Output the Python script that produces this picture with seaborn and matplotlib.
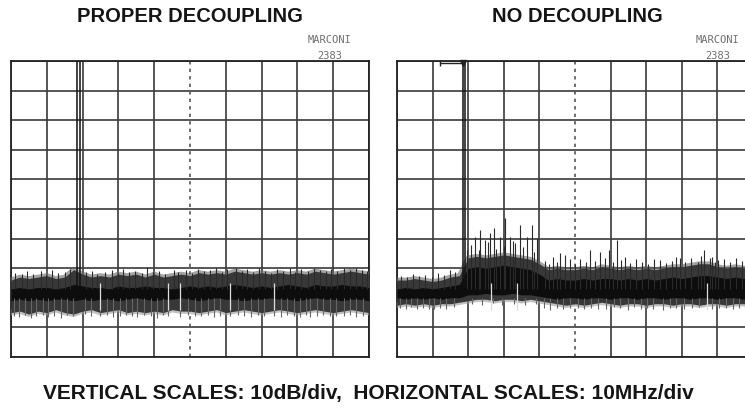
import numpy as np
import pandas as pd
import matplotlib
matplotlib.use("Agg")
import matplotlib.pyplot as plt
import seaborn as sns

sample_mhz = [0, 2.5, 5, 7.5, 10, 12.5, 15, 17.5, 20, 22.5,
              25, 27.5, 30, 32.5, 35, 37.5, 40, 42.5, 45, 47.5,
              50, 52.5, 55, 57.5, 60, 62.5, 65, 67.5, 70, 72.5,
              75, 77.5, 80, 82.5, 85, 87.5, 90, 92.5, 95, 97.5, 100]

# --- PROPER DECOUPLING (dB) ---
left_top = [-74.0, -73.0, -73.5, -73.0, -72.5, -73.5, -73.0, -70.5, -72.0, -73.0,
            -72.5, -73.0, -72.0, -72.5, -72.0, -73.0, -72.0, -73.0, -72.5, -72.0,
            -72.5, -71.5, -72.0, -71.5, -72.0, -71.0, -71.5, -72.0, -71.5, -72.0,
            -71.5, -72.0, -71.5, -72.0, -71.0, -71.5, -72.0, -71.5, -71.0, -71.5, -72.0]
left_core_top = [-77.0, -76.5, -77.0, -76.5, -76.5, -77.0, -76.5, -75.5, -76.0, -76.5,
                 -76.5, -77.0, -76.0, -76.5, -76.5, -76.0, -76.5, -76.5, -77.0, -76.5,
                 -76.0, -76.5, -76.0, -76.5, -76.0, -75.5, -76.0, -76.5, -76.0, -76.5,
                 -76.0, -75.5, -76.0, -76.5, -75.5, -76.0, -76.0, -75.5, -76.0, -76.0, -76.5]
left_core_bottom = [-81.0, -80.5, -81.0, -80.5, -81.0, -80.5, -80.5, -81.0, -80.5, -81.0,
                    -80.5, -80.5, -81.0, -80.5, -80.0, -80.5, -81.0, -80.5, -80.5, -80.0,
                    -80.5, -81.0, -80.5, -80.0, -80.5, -80.5, -81.0, -80.5, -80.5, -80.0,
                    -80.5, -80.5, -81.0, -80.5, -80.0, -80.5, -80.5, -81.0, -80.5, -80.5, -81.0]
left_bottom = [-85.0, -84.5, -85.5, -84.5, -85.0, -84.0, -85.0, -85.5, -84.5, -84.0,
               -85.0, -84.5, -84.0, -85.0, -84.5, -85.0, -84.5, -85.0, -84.0, -84.5,
               -84.5, -85.0, -84.5, -84.0, -85.0, -84.5, -84.0, -84.5, -85.0, -84.5,
               -84.0, -84.5, -85.0, -84.5, -84.0, -84.5, -85.0, -84.5, -84.0, -84.5, -85.0]
left_peak_mhz = [18.5, 19.3]
left_spike_mhz = [1.2, 3.0, 4.6, 6.1, 8.3, 9.7, 11.4, 13.2, 15.0, 16.5,
                  21.0, 22.6, 24.0, 26.3, 28.1, 29.8, 31.4, 33.0, 34.7, 36.5,
                  38.0, 39.6, 41.3, 43.0, 45.4, 46.6, 48.8, 50.5, 52.1, 53.9,
                  55.6, 57.3, 59.0, 60.4, 62.8, 64.4, 66.0, 67.7, 69.3, 71.0,
                  72.6, 74.4, 76.0, 77.8, 79.4, 81.1, 82.9, 84.5, 86.2, 87.9,
                  89.5, 91.2, 92.9, 94.6, 96.3, 98.0, 99.4]
left_spike_db = [-71.5, -72.0, -70.8, -71.8, -71.0, -72.2, -70.5, -71.6, -71.2, -70.4,
                 -71.4, -70.9, -72.0, -71.2, -70.6, -71.5, -70.2, -71.3, -70.8, -71.6,
                 -69.6, -71.2, -70.9, -71.8, -70.5, -71.4, -70.7, -71.5, -70.3, -71.0,
                 -70.6, -70.0, -71.2, -70.4, -69.8, -70.9, -70.2, -71.3, -70.0, -70.8,
                 -71.5, -70.3, -70.9, -70.1, -71.2, -70.4, -70.9, -69.9, -70.7, -71.1,
                 -70.2, -70.8, -70.0, -70.6, -69.8, -70.7, -71.0]
left_dip_mhz = [0.8, 2.2, 3.9, 5.5, 7.0, 8.8, 10.4, 12.0, 14.1, 15.7,
                17.2, 20.6, 22.4, 24.9, 26.8, 28.6, 30.5, 32.2, 33.9, 35.2,
                37.1, 39.0, 40.8, 42.4, 43.9, 47.2, 49.5, 51.3, 53.0, 55.0,
                56.8, 58.5, 61.2, 63.4, 65.2, 67.0, 68.9, 70.6, 73.4, 75.3,
                77.1, 79.0, 80.7, 82.3, 83.6, 85.4, 87.2, 89.0, 90.8, 93.0,
                94.8, 96.5, 98.3]
left_dip_db = [-86.0, -86.5, -85.8, -86.9, -86.0, -85.7, -86.4, -86.1, -86.8, -85.9,
               -86.3, -85.6, -86.2, -86.2, -85.8, -86.6, -86.0, -85.7, -86.3, -86.5,
               -85.9, -86.1, -86.7, -85.8, -86.0, -86.6, -85.9, -86.3, -86.0, -85.8,
               -86.4, -86.1, -86.3, -85.7, -86.2, -86.5, -85.9, -86.1, -86.0, -86.4,
               -85.8, -86.2, -86.6, -85.9, -86.4, -86.0, -85.7, -86.3, -86.1, -86.2,
               -85.8, -86.5, -86.0]
left_gap_mhz = [24.9, 43.9, 47.2, 61.2, 73.4]

# --- NO DECOUPLING (dB) ---
right_top = [-74.0, -74.0, -73.5, -74.0, -74.5, -74.0, -73.0, -72.5, -66.5, -66.0,
             -66.5, -66.0, -65.5, -66.0, -66.5, -67.0, -68.5, -70.5, -70.0, -70.5,
             -70.5, -70.0, -70.5, -69.5, -70.0, -70.5, -70.0, -70.5, -70.0, -70.5,
             -70.0, -69.5, -69.5, -69.0, -68.5, -68.5, -69.5, -70.0, -69.5, -70.0, -70.0]
right_core_top = [-77.0, -76.5, -77.0, -76.5, -77.0, -76.5, -76.0, -75.5, -70.0, -69.5,
                  -70.0, -69.5, -69.0, -69.5, -70.0, -70.5, -72.0, -74.0, -73.5, -74.0,
                  -74.0, -73.5, -74.0, -73.5, -73.5, -74.0, -73.5, -74.0, -73.5, -74.0,
                  -73.5, -73.0, -73.5, -73.0, -72.5, -72.5, -73.0, -73.5, -73.0, -73.5, -73.5]
right_core_bottom = [-80.0, -80.5, -80.0, -80.5, -80.0, -80.5, -80.0, -80.0, -79.0, -79.0,
                     -78.5, -79.0, -79.0, -78.5, -79.0, -79.0, -79.5, -80.0, -80.5, -80.0,
                     -80.0, -80.5, -80.0, -80.0, -80.5, -80.0, -80.0, -80.5, -80.0, -80.0,
                     -80.5, -80.0, -80.0, -80.5, -80.0, -80.0, -80.5, -80.0, -80.0, -80.5, -80.0]
right_bottom = [-82.5, -82.0, -82.5, -82.0, -82.5, -82.0, -82.0, -81.5, -81.0, -80.5,
                -80.5, -81.0, -80.5, -80.5, -81.0, -80.5, -81.0, -81.5, -82.0, -82.5,
                -82.0, -82.5, -82.0, -81.5, -82.0, -82.5, -82.0, -82.0, -82.5, -82.0,
                -82.0, -82.5, -82.0, -82.0, -82.5, -82.0, -82.0, -82.5, -82.0, -82.0, -82.5]
right_peak_mhz = [18.45, 19.2]
right_spike_mhz = [19.8, 21.9, 23.3, 24.7, 26.1, 27.2, 28.9, 30.3, 31.7, 33.1,
                   34.6, 36.5, 37.9, 39.3, 43.9, 45.8, 47.2, 54.2, 57.0, 59.6,
                   61.8, 64.0, 73.9, 79.5, 86.3, 88.5, 90.2]
right_spike_db = [-63.9, -59.5, -57.1, -60.5, -58.1, -56.4, -59.5, -53.0, -59.5, -61.5,
                  -55.4, -59.5, -55.4, -59.8, -66.2, -64.9, -65.5, -63.9, -64.5, -63.9,
                  -60.5, -66.2, -67.2, -66.6, -63.9, -66.2, -67.2]
right_fuzz_mhz = [1.0, 2.8, 4.5, 6.3, 8.0, 9.8, 11.5, 13.2, 15.0, 16.4,
                  20.8, 23.0, 25.5, 27.9, 30.0, 32.5, 35.5, 38.5, 41.5, 42.8,
                  45.0, 48.5, 50.0, 51.5, 53.0, 55.6, 58.3, 60.6, 63.0, 65.5,
                  67.0, 68.8, 70.5, 72.2, 75.5, 77.2, 78.5, 81.0, 82.7, 84.5,
                  85.5, 87.8, 89.2, 91.8, 93.5, 95.2, 97.0, 98.6]
right_fuzz_db = [-72.5, -73.0, -71.8, -72.8, -72.2, -73.1, -71.5, -72.4, -70.5, -71.2,
                 -62.0, -64.0, -61.0, -63.5, -62.5, -60.8, -63.0, -64.5, -67.5, -68.5,
                 -68.0, -67.0, -68.5, -66.8, -68.0, -67.5, -66.5, -68.0, -67.3, -68.4,
                 -66.9, -67.8, -68.5, -67.0, -68.2, -67.5, -66.2, -67.8, -66.5, -67.9,
                 -65.8, -66.5, -68.0, -66.9, -67.8, -66.4, -67.5, -66.8]
right_dip_mhz = [0.9, 2.4, 3.9, 5.6, 7.2, 8.9, 10.5, 12.1, 13.8, 16.0,
                 21.2, 24.0, 27.0, 29.6, 32.9, 36.0, 39.0, 41.2, 43.0, 44.9,
                 46.6, 48.7, 50.8, 52.5, 54.6, 56.5, 58.8, 60.9, 62.7, 64.8,
                 66.5, 68.4, 70.2, 72.0, 74.8, 76.6, 78.4, 80.5, 83.0, 84.9,
                 88.6, 90.4, 92.5, 94.4, 96.1, 97.8, 99.0]
right_dip_db = [-83.5, -83.8, -83.2, -83.9, -83.4, -83.7, -83.8, -83.3, -83.9, -83.2,
                -82.0, -82.4, -81.9, -82.3, -82.0, -82.5, -82.2, -83.6, -84.0, -83.4,
                -83.8, -83.3, -83.5, -83.9, -83.4, -83.7, -83.8, -83.2, -83.6, -84.0,
                -83.2, -83.7, -83.4, -83.9, -84.0, -83.5, -83.3, -83.8, -83.6, -83.2,
                -83.9, -83.4, -83.4, -83.7, -83.3, -83.9, -83.8]
right_gap_mhz = [26.5, 33.8, 87.1]

# marker line drawn by the analyser at the top of the screen
marker_mhz = [12.0, 18.5]
marker_db = [-0.8, -0.8]

sns.set_style("white")
plt.rcParams["font.family"] = ["Liberation Sans", "DejaVu Sans"]

fig = plt.figure(figsize=(7.45, 4.13), dpi=100)
ax_left = fig.add_axes([11 / 745, 1 - 357 / 413, 358 / 745, 296 / 413])
ax_right = fig.add_axes([397 / 745, 1 - 357 / 413, 356 / 745, 296 / 413])

panels = [
    (ax_left, left_top, left_core_top, left_core_bottom, left_bottom, left_peak_mhz,
     left_spike_mhz, left_spike_db, left_dip_mhz, left_dip_db, left_gap_mhz),
    (ax_right, right_top, right_core_top, right_core_bottom, right_bottom, right_peak_mhz,
     right_spike_mhz + right_fuzz_mhz, right_spike_db + right_fuzz_db,
     right_dip_mhz, right_dip_db, right_gap_mhz),
]

for (ax, top, ctop, cbot, bot, peaks, sp_x, sp_y, dip_x, dip_y, gaps) in panels:
    trace = pd.DataFrame({"MHz": sample_mhz, "top": top, "bottom": bot})
    # soft outer fuzz of the noise band
    sns.lineplot(data=trace, x="MHz", y="top", ax=ax, color="#666666", lw=3.5, alpha=0.6, zorder=3)
    sns.lineplot(data=trace, x="MHz", y="bottom", ax=ax, color="#999999", lw=4, alpha=0.6, zorder=3)
    ax.fill_between(trace["MHz"], trace["bottom"], trace["top"], color="#383838", lw=0, zorder=3)
    ax.fill_between(sample_mhz, cbot, ctop, color="#0d0d0d", lw=0, zorder=4)
    # vertical streaks of the trace
    ax.vlines(sp_x, -77, sp_y, color="#2a2a2a", lw=0.8, zorder=4)
    ax.vlines(dip_x, -80, dip_y, color="#666666", lw=0.8, zorder=4)
    ax.vlines(gaps, -84, -75, color="#dddddd", lw=0.9, zorder=5)
    ax.vlines(peaks, -76, 0.5, color="#111111", lw=1.1, zorder=6)

    ax.set_xlim(0, 100)
    ax.set_ylim(-100, 0)
    ax.set_xticks([0, 10, 20, 30, 40, 60, 70, 80, 90, 100])
    ax.set_yticks(range(-100, 1, 10))
    ax.grid(True, color="#3a3a3a", lw=1.2)
    ax.axvline(50, color="#555555", lw=1.2, ls=(0, (2, 2.5)), zorder=1)
    ax.set_axisbelow(True)
    ax.tick_params(left=False, bottom=False, labelleft=False, labelbottom=False)
    ax.set_xlabel("")
    ax.set_ylabel("")
    for s in ax.spines.values():
        s.set_color("#222222")
        s.set_linewidth(1.3)
        s.set_visible(True)

ax_right.plot(marker_mhz, marker_db, color="#222222", lw=1.0, zorder=7, clip_on=False)
ax_right.plot(marker_mhz[1:], marker_db[1:], marker="v", ms=5, color="#222222", zorder=7, clip_on=False)
ax_right.plot(marker_mhz[:1], marker_db[:1], marker="|", ms=5, color="#222222", zorder=7, clip_on=False)

fig.text(190 / 745, 1 - 17 / 413, "PROPER DECOUPLING", ha="center", va="center",
         fontsize=14.5, fontweight="bold", color="#151515")
fig.text(577 / 745, 1 - 17 / 413, "NO DECOUPLING", ha="center", va="center",
         fontsize=14.5, fontweight="bold", color="#151515")
for cx in [330 / 745, 718 / 745]:
    fig.text(cx, 1 - 40 / 413, "MARCONI", ha="center", va="center", fontsize=7.5,
             family=["DejaVu Sans Mono"], color="#707070")
    fig.text(cx, 1 - 56 / 413, "2383", ha="center", va="center", fontsize=7.5,
             family=["DejaVu Sans Mono"], color="#707070")
fig.text(368 / 745, 1 - 394 / 413, "VERTICAL SCALES: 10dB/div,  HORIZONTAL SCALES: 10MHz/div",
         ha="center", va="center", fontsize=15, fontweight="bold", color="#151515")

fig.savefig("out.png", dpi=100, facecolor="white")
